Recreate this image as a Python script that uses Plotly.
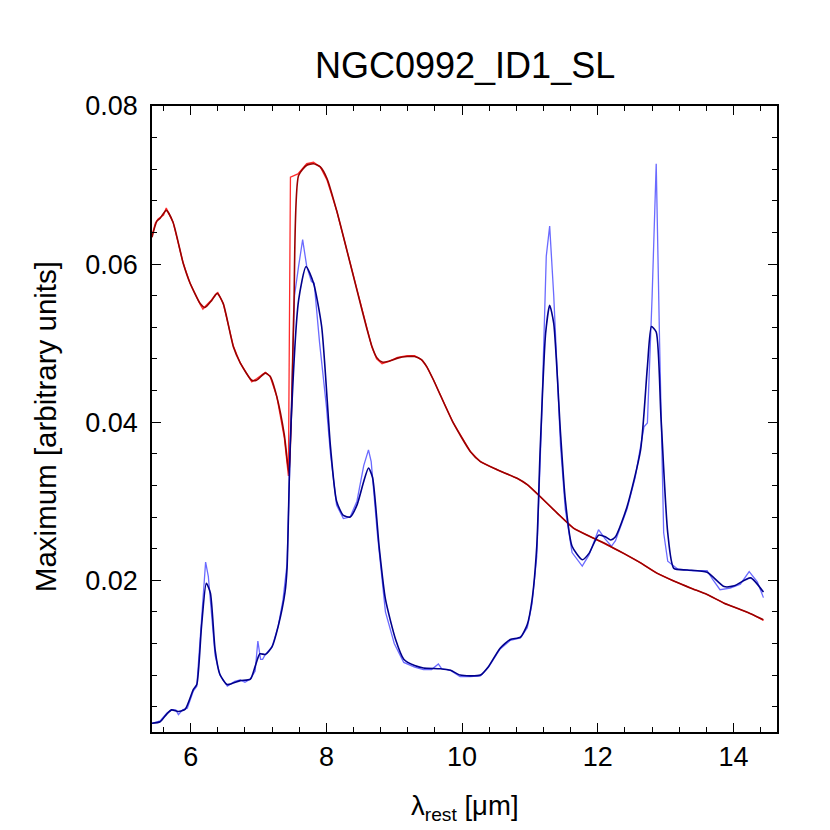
import plotly.graph_objects as go

# ---------------- data ----------------
red_dark_x = [5.43, 5.50, 5.55, 5.64, 5.74, 5.89, 5.99, 6.14, 6.21, 6.31, 6.39, 6.48, 6.63, 6.73,
              6.90, 6.97, 7.10, 7.17, 7.27, 7.38, 7.45, 7.52, 7.59, 7.71, 7.81, 7.91, 8.01, 8.15,
              8.30, 8.45, 8.60, 8.67, 8.74, 8.82, 8.92, 9.05, 9.19, 9.30, 9.40, 9.48, 9.58, 9.68,
              9.87, 10.12, 10.27, 10.51, 10.81, 10.96, 11.15, 11.40, 11.64, 11.89, 12.14, 12.38,
              12.63, 12.87, 13.12, 13.37, 13.61, 13.86, 14.10, 14.27, 14.44]
red_dark_y = [0.0634, 0.0654, 0.0658, 0.0668, 0.0653, 0.0601, 0.0576, 0.0550, 0.0545, 0.0554,
              0.0563, 0.0550, 0.0495, 0.0475, 0.0453, 0.0453, 0.0462, 0.0458, 0.0432, 0.0384,
              0.0335, 0.0540, 0.0712, 0.0725, 0.0727, 0.0723, 0.0708, 0.0668, 0.0618, 0.0567,
              0.0517, 0.0496, 0.0482, 0.0476, 0.0477, 0.0481, 0.0483, 0.0483, 0.0479, 0.0470,
              0.0453, 0.0434, 0.0399, 0.0363, 0.0350, 0.0340, 0.0329, 0.0321, 0.0306, 0.0285,
              0.0266, 0.0255, 0.0245, 0.0234, 0.0222, 0.0209, 0.0199, 0.0190, 0.0182, 0.0171,
              0.0163, 0.0157, 0.0150]

red_raw_x = [5.43, 5.48, 5.52, 5.56, 5.60, 5.64, 5.68, 5.74, 5.89, 5.99, 6.14, 6.18, 6.22, 6.31,
             6.36, 6.40, 6.48, 6.63, 6.73, 6.90, 6.97, 7.10, 7.17, 7.27, 7.38, 7.44, 7.47, 7.58,
             7.71, 7.81, 7.91, 8.01, 8.15, 8.30, 8.45, 8.60, 8.67, 8.74, 8.82, 8.92, 9.05, 9.19,
             9.30, 9.40, 9.48, 9.58, 9.68, 9.87, 10.12, 10.27, 10.51, 10.81, 10.96, 11.15, 11.40,
             11.64, 11.89, 12.14, 12.38, 12.63, 12.87, 13.12, 13.37, 13.61, 13.86, 14.10, 14.27,
             14.44]
red_raw_y = [0.0636, 0.0652, 0.0657, 0.0660, 0.0662, 0.0671, 0.0664, 0.0653, 0.0601, 0.0576,
             0.0549, 0.0543, 0.0547, 0.0555, 0.0561, 0.0564, 0.0550, 0.0496, 0.0475, 0.0451,
             0.0455, 0.0463, 0.0458, 0.0432, 0.0380, 0.0332, 0.0710, 0.0714, 0.0727, 0.0729,
             0.0723, 0.0706, 0.0668, 0.0618, 0.0567, 0.0517, 0.0495, 0.0480, 0.0474, 0.0477,
             0.0482, 0.0484, 0.0484, 0.0479, 0.0470, 0.0453, 0.0434, 0.0399, 0.0363, 0.0350,
             0.0340, 0.0329, 0.0321, 0.0306, 0.0285, 0.0266, 0.0255, 0.0245, 0.0234, 0.0222,
             0.0209, 0.0199, 0.0190, 0.0182, 0.0171, 0.0163, 0.0157, 0.0149]

blue_dark_x = [5.43, 5.55, 5.65, 5.72, 5.82, 5.92, 6.04, 6.09, 6.16, 6.23, 6.29, 6.36, 6.43,
               6.54, 6.73, 6.88, 6.95, 7.02, 7.10, 7.20, 7.29, 7.39, 7.42, 7.47, 7.59, 7.70,
               7.81, 7.93, 8.06, 8.15, 8.25, 8.35, 8.45, 8.55, 8.62, 8.68, 8.78, 8.87, 9.02,
               9.14, 9.30, 9.43, 9.68, 9.83, 9.97, 10.12, 10.27, 10.39, 10.56, 10.71, 10.86,
               10.96, 11.03, 11.10, 11.15, 11.23, 11.29, 11.35, 11.45, 11.52, 11.62, 11.77,
               11.87, 12.01, 12.11, 12.19, 12.26, 12.43, 12.63, 12.73, 12.79, 12.86, 12.93,
               13.03, 13.12, 13.32, 13.61, 13.86, 14.01, 14.25, 14.44]
blue_dark_y = [0.0019, 0.0021, 0.0031, 0.0036, 0.0034, 0.0037, 0.0062, 0.0068, 0.0142, 0.0196,
               0.0184, 0.0112, 0.0081, 0.0068, 0.0073, 0.0075, 0.0091, 0.0107, 0.0106, 0.0116,
               0.0142, 0.0185, 0.0215, 0.0380, 0.0554, 0.0597, 0.0576, 0.0521, 0.0369, 0.0300,
               0.0282, 0.0280, 0.0295, 0.0325, 0.0342, 0.0330, 0.0240, 0.0176, 0.0125, 0.0100,
               0.0092, 0.0089, 0.0088, 0.0086, 0.0080, 0.0079, 0.0080, 0.0091, 0.0114, 0.0125,
               0.0128, 0.0144, 0.0175, 0.0243, 0.0365, 0.0512, 0.0548, 0.0525, 0.0386, 0.0302,
               0.0243, 0.0226, 0.0234, 0.0257, 0.0255, 0.0251, 0.0255, 0.0293, 0.0365, 0.0470,
               0.0521, 0.0514, 0.0407, 0.0260, 0.0215, 0.0213, 0.0210, 0.0192, 0.0193, 0.0203,
               0.0185]

blue_raw_x = [5.43, 5.55, 5.65, 5.72, 5.78, 5.82, 5.88, 5.95, 6.04, 6.09, 6.16, 6.22, 6.26,
              6.31, 6.36, 6.43, 6.54, 6.65, 6.73, 6.80, 6.88, 6.95, 6.99, 7.03, 7.06, 7.10,
              7.20, 7.29, 7.36, 7.42, 7.47, 7.53, 7.59, 7.65, 7.71, 7.78, 7.82, 7.90, 8.00,
              8.06, 8.15, 8.25, 8.35, 8.45, 8.55, 8.62, 8.66, 8.75, 8.87, 9.00, 9.14, 9.30,
              9.43, 9.55, 9.65, 9.70, 9.83, 9.97, 10.12, 10.27, 10.39, 10.56, 10.71, 10.86,
              10.96, 11.03, 11.10, 11.17, 11.24, 11.29, 11.35, 11.45, 11.52, 11.62, 11.77,
              11.87, 12.01, 12.11, 12.20, 12.26, 12.43, 12.55, 12.68, 12.73, 12.80, 12.86,
              12.91, 12.97, 13.03, 13.18, 13.40, 13.61, 13.70, 13.80, 13.95, 14.10, 14.23,
              14.35, 14.44]
blue_raw_y = [0.0019, 0.0022, 0.0032, 0.0036, 0.0036, 0.0030, 0.0036, 0.0038, 0.0060, 0.0066,
              0.0150, 0.0223, 0.0205, 0.0150, 0.0105, 0.0080, 0.0066, 0.0072, 0.0074, 0.0071,
              0.0075, 0.0085, 0.0123, 0.0100, 0.0100, 0.0106, 0.0116, 0.0142, 0.0175, 0.0220,
              0.0390, 0.0560, 0.0597, 0.0631, 0.0597, 0.0578, 0.0576, 0.0500, 0.0420, 0.0360,
              0.0295, 0.0278, 0.0280, 0.0300, 0.0345, 0.0365, 0.0350, 0.0260, 0.0160, 0.0120,
              0.0096, 0.0090, 0.0087, 0.0087, 0.0094, 0.0088, 0.0086, 0.0078, 0.0078, 0.0079,
              0.0090, 0.0113, 0.0124, 0.0127, 0.0140, 0.0170, 0.0230, 0.0400, 0.0610, 0.0648,
              0.0560, 0.0370, 0.0290, 0.0235, 0.0218, 0.0232, 0.0264, 0.0252, 0.0243, 0.0250,
              0.0290, 0.0330, 0.0394, 0.0399, 0.0560, 0.0727, 0.0500, 0.0260, 0.0224, 0.0214,
              0.0212, 0.0212, 0.0200, 0.0188, 0.0190, 0.0195, 0.0211, 0.0198, 0.0178]

x_tickvals = [6, 8, 10, 12, 14]
x_ticktext = ["6", "8", "10", "12", "14"]
y_tickvals = [0.02, 0.04, 0.06, 0.08]
y_ticktext = ["0.02", "0.04", "0.06", "0.08"]

title_text = "NGC0992_ID1_SL"
x_title = "λ<sub>rest</sub> [μm]"
y_title = "Maximum [arbitrary units]"

# ---------------- figure ----------------
FONT = "Liberation Sans, Arial, Helvetica, sans-serif"
fig = go.Figure()
fig.add_trace(go.Scatter(x=red_raw_x, y=red_raw_y, mode="lines",
                         line=dict(color="rgba(255,20,20,0.9)", width=1.3), showlegend=False))
fig.add_trace(go.Scatter(x=blue_raw_x, y=blue_raw_y, mode="lines",
                         line=dict(color="rgba(80,80,255,0.85)", width=1.3), showlegend=False))
fig.add_trace(go.Scatter(x=red_dark_x, y=red_dark_y, mode="lines",
                         line=dict(color="#9a0000", width=1.6, shape="spline", smoothing=0.6),
                         showlegend=False))
fig.add_trace(go.Scatter(x=blue_dark_x, y=blue_dark_y, mode="lines",
                         line=dict(color="#00008c", width=1.6, shape="spline", smoothing=0.6),
                         showlegend=False))

axis_common = dict(showgrid=False, zeroline=False, showline=True, linecolor="black",
                   linewidth=1.5, ticks="inside", ticklen=9, tickwidth=1.3, tickcolor="black",
                   mirror="ticks", tickfont=dict(family=FONT, size=27, color="black"))

fig.update_xaxes(range=[5.43, 14.64], tickvals=x_tickvals, ticktext=x_ticktext,
                 minor=dict(dtick=0.4, tick0=0, ticks="inside", ticklen=5, tickwidth=1.2,
                            tickcolor="black"),
                 **axis_common)
fig.update_yaxes(range=[0.0008, 0.08], tickvals=y_tickvals, ticktext=y_ticktext,
                 ticklabelstandoff=7,
                 minor=dict(dtick=0.004, tick0=0, ticks="inside", ticklen=5, tickwidth=1.2,
                            tickcolor="black"),
                 **axis_common)

fig.update_layout(
    width=830, height=830,
    margin=dict(l=144, r=61, t=97.5, b=106.3, pad=0),
    plot_bgcolor="white", paper_bgcolor="white",
    font=dict(family=FONT, color="black"),
    annotations=[
        dict(text=title_text, x=0.5, xref="paper", y=1, yref="paper", yshift=40.5,
             xanchor="center", yanchor="middle", showarrow=False,
             font=dict(size=36, family=FONT, color="black")),
        dict(text=x_title, x=0.5, xref="paper", y=0, yref="paper", yshift=-75,
             xanchor="center", yanchor="middle", showarrow=False,
             font=dict(size=27.5, family=FONT, color="black")),
        dict(text=y_title, x=0, xref="paper", y=0.487, yref="paper", xshift=-107,
             xanchor="center", yanchor="middle", textangle=-90, showarrow=False,
             font=dict(size=29.5, family=FONT, color="black")),
    ],
)

fig.write_html("out.html")
